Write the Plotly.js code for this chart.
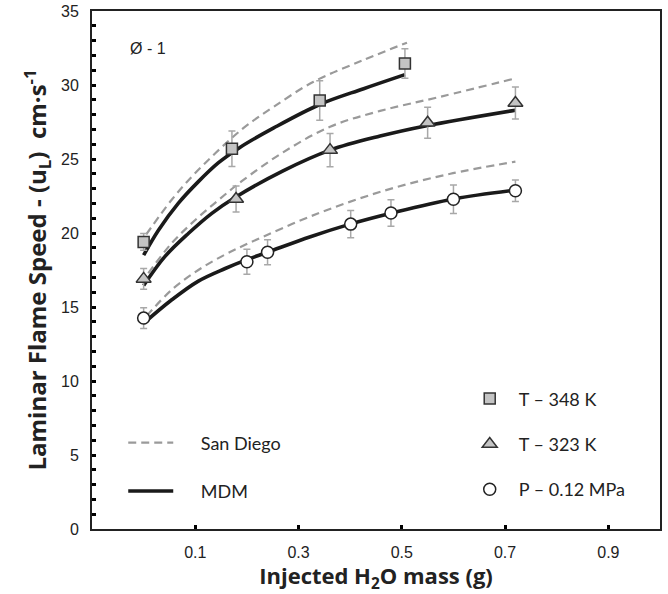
<!DOCTYPE html>
<html>
<head>
<meta charset="utf-8">
<script src="https://cdn.plot.ly/plotly-3.0.1.min.js"></script>
<style>html,body{margin:0;padding:0;background:#fff;}#chart{width:668px;height:594px;}</style>
</head>
<body>
<div id="chart"></div>
<script>
// Experimental points
var sqX = [0, 0.171, 0.341, 0.506];
var sqY = [19.4, 25.7, 28.95, 31.45];
var sqErr = [0.56, 1.2, 1.34, 1.0];

var triX = [0, 0.179, 0.361, 0.55, 0.72];
var triY = [16.9, 22.3, 25.6, 27.45, 28.78];
var triErr = [0.7, 0.88, 1.13, 1.04, 1.08];

var cirX = [0, 0.2, 0.24, 0.401, 0.479, 0.6, 0.72];
var cirY = [14.25, 18.06, 18.7, 20.6, 21.35, 22.28, 22.85];
var cirErr = [0.7, 0.84, 0.84, 0.92, 0.9, 0.97, 0.73];

// MDM model curves
var mdmSqX = [0, 0.029, 0.067, 0.106, 0.145, 0.185, 0.252, 0.342, 0.426, 0.506];
var mdmSqY = [18.5, 20.2, 22.0, 23.47, 24.75, 25.75, 27.1, 28.7, 29.75, 30.7];
var mdmTriX = [0, 0.041, 0.087, 0.132, 0.177, 0.27, 0.361, 0.458, 0.548, 0.72];
var mdmTriY = [16.45, 18.4, 19.98, 21.33, 22.4, 24.2, 25.6, 26.55, 27.25, 28.3];
var mdmCirX = [0, 0.054, 0.106, 0.158, 0.2, 0.24, 0.323, 0.4, 0.481, 0.6, 0.72];
var mdmCirY = [13.9, 15.47, 16.75, 17.6, 18.2, 18.7, 19.75, 20.6, 21.35, 22.3, 22.9];

// San Diego model curves
var sdSqX = [0.005, 0.054, 0.093, 0.132, 0.17, 0.203, 0.252, 0.329, 0.426, 0.51];
var sdSqY = [19.9, 22.23, 23.8, 25.16, 26.4, 27.35, 28.53, 30.22, 31.69, 32.86];
var sdTriX = [0.009, 0.054, 0.1, 0.145, 0.19, 0.27, 0.361, 0.458, 0.574, 0.72];
var sdTriY = [17.28, 19.3, 20.88, 22.23, 23.5, 25.45, 27.18, 28.25, 29.2, 30.45];
var sdCirX = [0.006, 0.054, 0.106, 0.158, 0.206, 0.336, 0.465, 0.594, 0.72];
var sdCirY = [14.4, 16.15, 17.5, 18.55, 19.35, 21.3, 22.85, 24.0, 24.82];

var xTickVals = [0.1, 0.3, 0.5, 0.7, 0.9];
var xTickText = ['0.1', '0.3', '0.5', '0.7', '0.9'];

var sdLine = {color: '#9a9a9a', width: 2.2, dash: '8px,5px', shape: 'spline', smoothing: 1};
var mdmLine = {color: '#1a1a1a', width: 3.6, shape: 'spline', smoothing: 1};
var errStyle = function (arr) {
  return {type: 'data', array: arr, visible: true, color: '#a8a8a8', thickness: 1.5, width: 3.5};
};

var traces = [
  {x: sdSqX, y: sdSqY, mode: 'lines', line: sdLine, showlegend: false, hoverinfo: 'skip'},
  {x: sdTriX, y: sdTriY, mode: 'lines', line: sdLine, showlegend: false, hoverinfo: 'skip'},
  {x: sdCirX, y: sdCirY, mode: 'lines', line: sdLine, showlegend: false, hoverinfo: 'skip'},
  {x: mdmSqX, y: mdmSqY, mode: 'lines', line: mdmLine, showlegend: false, hoverinfo: 'skip'},
  {x: mdmTriX, y: mdmTriY, mode: 'lines', line: mdmLine, showlegend: false, hoverinfo: 'skip'},
  {x: mdmCirX, y: mdmCirY, mode: 'lines', line: mdmLine, showlegend: false, hoverinfo: 'skip'},
  {x: sqX, y: sqY, mode: 'markers', name: '\u2002T \u2013 348 K', legend: 'legend', legendgroup: 'a',
   marker: {symbol: 'square', size: 11, color: '#c4c4c4', line: {color: '#333', width: 1.5}},
   error_y: errStyle(sqErr)},
  {x: triX, y: triY, mode: 'markers', name: '\u2002T \u2013 323 K', legend: 'legend', legendgroup: 'b',
   marker: {symbol: 'triangle-up', size: 13, color: '#c4c4c4', line: {color: '#333', width: 1.5}},
   error_y: errStyle(triErr)},
  {x: cirX, y: cirY, mode: 'markers', name: '\u2002P \u2013 0.12 MPa', legend: 'legend', legendgroup: 'c',
   marker: {symbol: 'circle', size: 12, color: '#ffffff', line: {color: '#222', width: 1.5}},
   error_y: errStyle(cirErr)},
  {x: [null], y: [null], mode: 'lines', name: '\u2003\u2002San Diego', legend: 'legend2', legendgroup: 'd',
   line: {color: '#9a9a9a', width: 2.2, dash: '8px,5px'}},
  {x: [null], y: [null], mode: 'lines', name: '\u2003\u2002MDM', legend: 'legend2', legendgroup: 'e',
   line: {color: '#1a1a1a', width: 3.6}}
];

var layout = {
  width: 668, height: 594,
  margin: {l: 92, r: 8, t: 11, b: 65},
  paper_bgcolor: '#fff', plot_bgcolor: '#fff',
  showlegend: true,
  xaxis: {
    range: [-0.1, 1.0], showgrid: false, zeroline: false,
    tickvals: xTickVals, ticktext: xTickText,
    ticks: 'inside', ticklen: 4, tickwidth: 3, tickcolor: '#000',
    showline: true, linecolor: '#222', linewidth: 2, mirror: true,
    ticklabelstandoff: 8,
    tickfont: {family: 'Liberation Sans, Arial, sans-serif', size: 16, color: '#222'},
    title: {text: 'Injected H<sub>2</sub>O mass (g)', standoff: 14,
            font: {family: 'Open Sans, sans-serif', size: 22, color: '#222', weight: 'bold'}}
  },
  yaxis: {
    range: [0, 35], showgrid: false, zeroline: false,
    dtick: 5, tick0: 0,
    ticks: 'inside', ticklen: 4, tickwidth: 3, tickcolor: '#000',
    minor: {dtick: 1, ticks: 'inside', ticklen: 4, tickwidth: 3, tickcolor: '#000'},
    showline: true, linecolor: '#222', linewidth: 2, mirror: true,
    ticklabelstandoff: 8,
    tickfont: {family: 'Liberation Sans, Arial, sans-serif', size: 16, color: '#222'},
    title: {text: 'Laminar Flame Speed - (u<sub>L</sub>)  cm\u00b7s<sup>-1</sup>', standoff: 8,
            font: {family: 'Open Sans, sans-serif', size: 24, color: '#222', weight: 'bold'}}
  },
  legend: {
    x: 0.665, y: 0.287, xanchor: 'left', yanchor: 'top',
    bgcolor: 'rgba(0,0,0,0)', borderwidth: 0,
    traceorder: 'grouped', tracegroupgap: 19, itemwidth: 30,
    font: {family: 'Lato, sans-serif', size: 18, color: '#222'}
  },
  legend2: {
    x: 0.055, y: 0.202, xanchor: 'left', yanchor: 'top',
    bgcolor: 'rgba(0,0,0,0)', borderwidth: 0,
    traceorder: 'grouped', tracegroupgap: 22, itemwidth: 45,
    font: {family: 'Lato, sans-serif', size: 18, color: '#222'}
  },
  annotations: [{
    xref: 'paper', yref: 'paper', x: 0.063, y: 0.927, xanchor: 'left', yanchor: 'middle',
    text: '\u00d8 - 1', showarrow: false,
    font: {family: 'Liberation Sans, Arial, sans-serif', size: 16, color: '#222'}
  }]
};

Plotly.newPlot('chart', traces, layout, {displayModeBar: false, staticPlot: true});
</script>
</body>
</html>
